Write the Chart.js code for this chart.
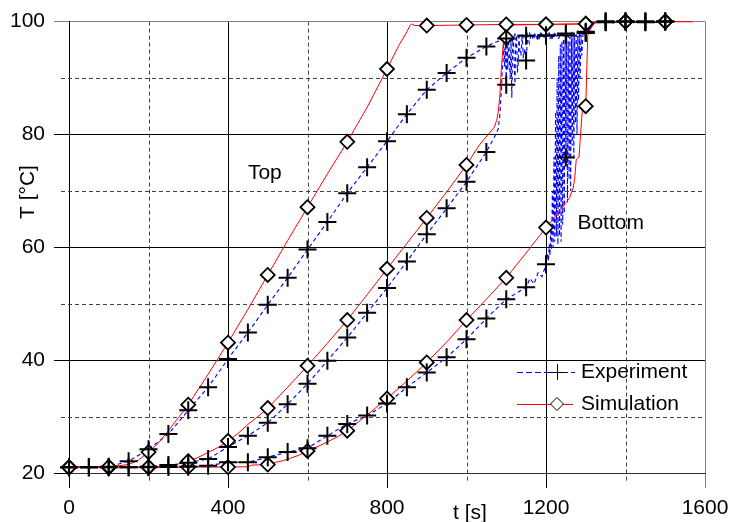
<!DOCTYPE html>
<html>
<head>
<meta charset="utf-8">
<script src="https://cdn.jsdelivr.net/npm/chart.js@4.4.0/dist/chart.umd.min.js"></script>
<style>
  html, body { margin: 0; padding: 0; background: #fff; }
  canvas { display: block; }
</style>
</head>
<body>
<canvas id="chart" width="740" height="522"></canvas>
<script>
// Axis ticks
const xTicks = [0, 400, 800, 1200, 1600];
const yTicks = [20, 40, 60, 80, 100];
const xMinorTicks = [200, 600, 1000, 1400];
const yMinorTicks = [30, 50, 70, 90];

// Top sensor - simulation (time [s], temperature [°C])
const topSimT = [0, 50, 100, 150, 175, 200, 225, 250, 275, 300, 350, 400, 450, 500, 550, 600, 650, 700, 750, 800, 830, 850, 858, 862, 870, 900, 1000, 1100, 1200, 1300, 1320, 1330, 1400, 1500, 1570];
const topSimV = [21, 21, 21.1, 21.5, 22.3, 23.7, 25.3, 27.5, 29.8, 32.1, 37.5, 43.1, 49.0, 55.1, 61.2, 67.1, 73.0, 78.7, 84.8, 91.6, 95.8, 98.2, 99.3, 99.6, 99.3, 99.3, 99.4, 99.5, 99.5, 99.6, 99.8, 100, 100, 100, 100];

// Top sensor - experiment
const topExpT = [0, 50, 100, 150, 200, 250, 300, 350, 400, 450, 500, 550, 600, 650, 700, 750, 800, 850, 900, 950, 1000, 1050, 1075, 1100, 1108, 1115, 1122, 1130, 1138, 1145, 1150, 1158, 1165, 1172, 1180, 1188, 1195, 1200, 1208, 1215, 1222, 1230, 1238, 1245, 1250, 1258, 1265, 1272, 1280, 1288, 1295, 1300, 1310, 1318, 1330, 1340, 1350, 1365, 1380, 1400, 1420, 1435, 1450, 1470, 1490, 1500, 1512];
const topExpV = [21, 21, 21.1, 22.1, 24.2, 26.9, 31.1, 35.2, 40.2, 44.9, 49.8, 54.6, 59.6, 64.5, 69.6, 74.2, 78.8, 83.6, 87.9, 90.9, 93.6, 95.6, 96.4, 97.0, 97.6, 96.5, 97.8, 97.2, 97.9, 96.8, 97.5, 98.0, 97.1, 97.9, 96.6, 97.8, 97.3, 97.6, 98.0, 97.0, 97.9, 96.9, 97.8, 97.4, 97.9, 97.2, 98.1, 97.3, 98.0, 97.5, 98.3, 98.2, 98.8, 99.8, 99.7, 100, 99.9, 99.7, 100, 100, 99.8, 100, 99.9, 99.8, 100, 100, 99.9];

// Middle sensor - simulation
const midSimT = [0, 50, 100, 150, 200, 250, 270, 290, 300, 320, 340, 360, 380, 400, 425, 450, 475, 500, 550, 600, 650, 700, 750, 800, 850, 900, 950, 1000, 1032, 1070, 1076, 1080, 1084, 1088, 1093, 1100, 1105, 1110, 1200, 1300, 1330, 1400, 1500, 1570];
const midSimV = [21, 21, 21, 21, 21.05, 21.3, 21.5, 21.9, 22.1, 22.6, 23.3, 24.0, 24.7, 25.7, 27.0, 28.6, 30.0, 31.5, 35.2, 39.0, 43.0, 47.1, 51.6, 56.2, 60.7, 65.2, 69.8, 74.6, 78.1, 81.3, 82.5, 84.0, 87.0, 92.0, 96.5, 97.2, 99.3, 99.4, 99.5, 99.6, 100, 100, 100, 100];

// Middle sensor - experiment
const midExpT = [0, 50, 100, 150, 200, 250, 300, 350, 400, 450, 500, 550, 600, 650, 700, 750, 800, 850, 900, 950, 1000, 1050, 1070, 1080, 1084, 1086, 1088, 1090, 1092, 1094, 1096, 1098, 1100, 1102, 1104, 1106, 1108, 1110, 1112, 1114, 1116, 1118, 1120, 1122, 1124, 1126, 1128, 1130, 1132, 1134, 1137, 1140, 1143, 1146, 1150, 1154, 1158, 1163, 1168, 1174, 1180, 1187, 1194, 1200, 1210, 1220, 1230, 1240, 1250, 1260, 1270, 1280, 1290, 1300, 1310, 1318, 1330, 1350, 1400, 1450, 1500, 1510];
const midExpV = [21, 21, 21, 21, 21.1, 21.4, 21.8, 22.5, 24.6, 26.6, 28.9, 32.2, 35.8, 39.9, 44.0, 48.4, 52.8, 57.5, 62.3, 66.9, 71.6, 76.9, 79.5, 81.0, 83.5, 86.0, 88.0, 91.5, 93.0, 96.5, 92.0, 95.5, 88.8, 96.8, 91.5, 97.5, 93.0, 90.0, 97.0, 86.5, 95.5, 97.2, 92.0, 89.0, 96.8, 97.6, 91.0, 92.5, 97.4, 95.0, 94.0, 97.8, 93.5, 95.2, 93.1, 97.6, 96.2, 97.9, 96.8, 97.8, 97.0, 98.0, 97.2, 97.5, 97.0, 97.9, 97.3, 97.9, 97.6, 97.0, 97.8, 97.3, 97.9, 98.0, 98.6, 99.8, 100, 100, 100, 100, 100, 100];

// Bottom sensor - simulation
const botSimT = [0, 100, 200, 300, 400, 450, 460, 500, 520, 540, 560, 580, 600, 620, 650, 675, 700, 750, 800, 850, 900, 950, 1000, 1050, 1100, 1150, 1200, 1234, 1259, 1268, 1272, 1276, 1283, 1286, 1290, 1293, 1300, 1302, 1305, 1312, 1322, 1335, 1400, 1500, 1570];
const botSimV = [21, 21, 21, 21.05, 21.05, 21.1, 21.4, 21.5, 21.9, 22.2, 22.7, 23.2, 23.9, 24.5, 25.5, 26.4, 27.5, 30.3, 33.2, 36.3, 39.6, 43.2, 47.1, 50.8, 54.6, 59.0, 63.5, 66.4, 68.7, 70.5, 72.0, 75.5, 76.0, 79.0, 83.0, 85.5, 85.0, 90.0, 97.5, 98.7, 99.7, 100, 100, 100, 100];

// Bottom sensor - experiment
const botExpT = [0, 50, 100, 150, 200, 250, 300, 350, 400, 450, 500, 550, 600, 650, 700, 750, 800, 850, 900, 950, 1000, 1050, 1100, 1150, 1160, 1170, 1180, 1190, 1200, 1204, 1206, 1208, 1210, 1212, 1214, 1216, 1218, 1220, 1222, 1224, 1226, 1228, 1230, 1232, 1234, 1236, 1238, 1240, 1242, 1244, 1246, 1248, 1250, 1252, 1254, 1256, 1258, 1260, 1262, 1264, 1266, 1268, 1270, 1272, 1274, 1276, 1278, 1280, 1282, 1284, 1286, 1288, 1290, 1293, 1296, 1300, 1310, 1318, 1330, 1350, 1400, 1450, 1500, 1510];
const botExpV = [21, 21, 21, 21, 21, 21.05, 21.1, 21.3, 21.9, 21.9, 22.8, 23.7, 24.4, 26.6, 28.7, 30.2, 32.3, 35.2, 37.8, 40.5, 43.7, 47.4, 50.8, 52.9, 54.5, 53.5, 55.5, 54.8, 57.0, 58.8, 57.5, 60.5, 58.5, 64.0, 59.5, 70.0, 60.0, 76.0, 61.0, 84.0, 62.0, 90.0, 60.5, 94.0, 62.0, 96.0, 61.0, 96.5, 64.0, 97.0, 66.0, 96.8, 75.9, 97.2, 68.0, 96.5, 72.0, 97.3, 70.0, 97.0, 78.0, 97.5, 76.0, 97.2, 82.0, 97.6, 80.0, 97.4, 86.0, 97.7, 90.0, 97.6, 94.0, 97.8, 97.4, 98.1, 98.7, 99.8, 100, 100, 100, 100, 100, 100];

const FONT = "'Liberation Sans', Arial, sans-serif";

function points(ts, vs) {
  return ts.map((t, i) => ({ x: t, y: vs[i] }));
}
function every(ts, vs, step) {
  return points(ts, vs).filter(p => p.x % step === 0 && p.x <= 1500);
}

const simSeries = [[topSimT, topSimV], [midSimT, midSimV], [botSimT, botSimV]];
const expSeries = [[topExpT, topExpV], [midExpT, midExpV], [botExpT, botExpV]];

const datasets = [];
expSeries.forEach(([t, v]) => datasets.push({
  label: 'Experiment', data: every(t, v, 50), showLine: false,
  pointStyle: 'cross', pointRadius: 9, pointBorderWidth: 2,
  pointBorderColor: '#000', pointBackgroundColor: '#000', order: 0, clip: false
}));
simSeries.forEach(([t, v]) => datasets.push({
  label: 'Simulation', data: every(t, v, 100), showLine: false,
  pointStyle: 'rectRot', pointRadius: 7, pointBorderWidth: 1.8,
  pointBorderColor: '#000', pointBackgroundColor: '#fff', order: 1, clip: false
}));
expSeries.forEach(([t, v]) => datasets.push({
  label: 'Experiment', data: points(t, v), showLine: true, borderColor: '#0000ff', borderWidth: 1.1,
  borderDash: [4, 3], pointRadius: 0, tension: 0, order: 3
}));
simSeries.forEach(([t, v]) => datasets.push({
  label: 'Simulation', data: points(t, v), showLine: true, borderColor: '#ff0000', borderWidth: 1,
  pointRadius: 0, tension: 0, order: 2
}));

// Dashed minor grid, axis titles, curve names and the legend
const decorations = {
  id: 'decorations',
  beforeDatasetsDraw(chart) {
    const { ctx, chartArea: a, scales: { x, y } } = chart;
    ctx.save();
    ctx.strokeStyle = '#444';
    ctx.lineWidth = 1;
    ctx.setLineDash([4, 3]);
    xMinorTicks.forEach(v => {
      const px = Math.round(x.getPixelForValue(v)) + 0.5;
      ctx.beginPath(); ctx.moveTo(px, a.top); ctx.lineTo(px, a.bottom + 8); ctx.stroke();
    });
    yMinorTicks.forEach(v => {
      const py = Math.round(y.getPixelForValue(v)) + 0.5;
      ctx.beginPath(); ctx.moveTo(a.left - 8, py); ctx.lineTo(a.right, py); ctx.stroke();
    });
    ctx.restore();
  },
  afterDraw(chart) {
    const { ctx, chartArea: a, scales: { x, y } } = chart;
    ctx.save();
    ctx.fillStyle = '#000';
    ctx.font = '21px ' + FONT;

    // axis titles
    ctx.textAlign = 'center';
    ctx.textBaseline = 'alphabetic';
    ctx.fillText('t [s]', a.left + 401, 519);
    ctx.save();
    ctx.translate(34, 192);
    ctx.rotate(-Math.PI / 2);
    ctx.fillText('T [°C]', 0, 0);
    ctx.restore();

    // curve names
    ctx.textAlign = 'left';
    ctx.fillText('Top', x.getPixelForValue(450), y.getPixelForValue(72.1));
    ctx.fillText('Bottom', x.getPixelForValue(1279), y.getPixelForValue(63.2));

    // legend
    const lx0 = a.right - 188, lx1 = a.right - 130, mx = a.right - 148;
    const ly1 = a.bottom - 101, ly2 = a.bottom - 69;
    ctx.lineWidth = 1;
    ctx.strokeStyle = '#0000ff';
    ctx.setLineDash([6, 3]);
    ctx.beginPath(); ctx.moveTo(lx0, ly1 + 0.5); ctx.lineTo(lx1, ly1 + 0.5); ctx.stroke();
    ctx.setLineDash([]);
    ctx.strokeStyle = '#ff0000';
    ctx.beginPath(); ctx.moveTo(lx0, ly2 + 0.5); ctx.lineTo(lx1 - 2, ly2 + 0.5); ctx.stroke();
    ctx.strokeStyle = '#000';
    ctx.beginPath();
    ctx.moveTo(mx - 8, ly1 + 0.5); ctx.lineTo(mx + 8, ly1 + 0.5);
    ctx.moveTo(mx + 0.5, ly1 - 8); ctx.lineTo(mx + 0.5, ly1 + 8);
    ctx.stroke();
    ctx.fillStyle = '#fff';
    ctx.beginPath();
    ctx.moveTo(mx - 6.5, ly2); ctx.lineTo(mx, ly2 - 6.5); ctx.lineTo(mx + 6.5, ly2); ctx.lineTo(mx, ly2 + 6.5);
    ctx.closePath(); ctx.fill(); ctx.stroke();
    ctx.fillStyle = '#000';
    ctx.textBaseline = 'middle';
    ctx.fillText('Experiment', a.right - 124, ly1);
    ctx.fillText('Simulation', a.right - 124, ly2);
    ctx.restore();
  }
};

new Chart(document.getElementById('chart'), {
  type: 'scatter',
  data: { datasets },
  options: {
    responsive: false,
    animation: false,
    devicePixelRatio: 1,
    layout: { padding: { left: 0, right: 35, top: 19, bottom: 0 } },
    plugins: { legend: { display: false }, tooltip: { enabled: false } },
    scales: {
      x: {
        type: 'linear', min: 0, max: 1600,
        afterBuildTicks: s => { s.ticks = xTicks.map(v => ({ value: v })); },
        afterFit: s => { s.height = 49; },
        ticks: { autoSkip: false, maxRotation: 0, padding: 8, color: '#000',
                 font: { family: FONT, size: 21 }, callback: v => String(v) },
        grid: { color: c => (c.tick && c.tick.value === 1600 ? '#808080' : '#000'),
                lineWidth: 1, tickLength: 15 },
        border: { color: '#333', width: 1 }
      },
      y: {
        type: 'linear', min: 20, max: 100,
        afterBuildTicks: s => { s.ticks = yTicks.map(v => ({ value: v })); },
        afterFit: s => { s.width = 69; },
        ticks: { autoSkip: false, padding: 9, color: '#000',
                 font: { family: FONT, size: 21 }, callback: v => String(v) },
        grid: { color: c => (c.tick && c.tick.value === 100 ? '#808080' : '#000'),
                lineWidth: 1, tickLength: 15 },
        border: { color: '#000', width: 1 }
      }
    }
  },
  plugins: [decorations]
});
</script>
</body>
</html>
